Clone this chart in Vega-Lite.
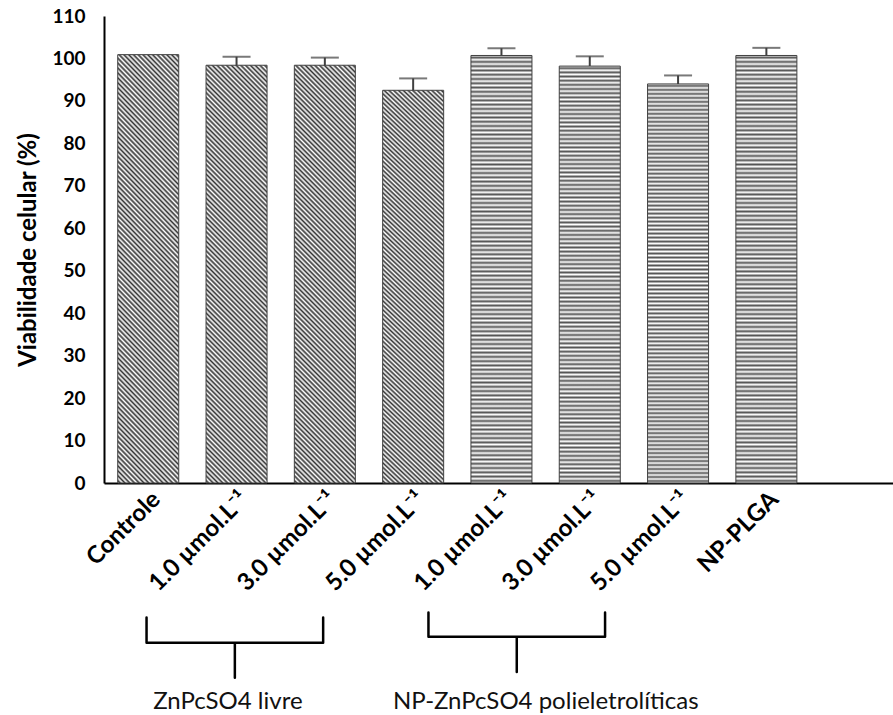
{
  "$schema": "https://vega.github.io/schema/vega-lite/v6.json",
  "autosize": "none",
  "width": 789,
  "height": 467,
  "padding": {"left": 104, "top": 16, "right": 0, "bottom": 232},
  "background": "white",
  "config": {
    "view": {"stroke": null},
    "font": "Lato",
    "axis": {
      "labelFont": "Lato",
      "labelFontWeight": "bold",
      "labelFontSize": 19,
      "labelColor": "#000",
      "titleFont": "Lato",
      "titleFontSize": 24,
      "titleFontWeight": "bold",
      "titleColor": "#000",
      "ticks": false,
      "tickSize": 0,
      "grid": false,
      "domainColor": "#000",
      "domainWidth": 2
    },
    "axisX": {
      "labelAngle": -45,
      "labelFontSize": 24,
      "labelPadding": 4,
      "labelOverlap": false,
      "labelExpr": "split(datum.value, '|')[0]"
    },
    "axisY": {
      "titlePadding": 11,
      "labelPadding": 19,
      "values": [0, 10, 20, 30, 40, 50, 60, 70, 80, 90, 100, 110]
    }
  },
  "datasets": {
    "viabilidade": [
      {"amostra": "Controle", "grupo": "controle", "media": 100.9, "dp": null},
      {"amostra": "1.0 µmol.L⁻¹|livre", "grupo": "livre", "media": 98.4, "dp": 2.0},
      {"amostra": "3.0 µmol.L⁻¹|livre", "grupo": "livre", "media": 98.4, "dp": 1.8},
      {"amostra": "5.0 µmol.L⁻¹|livre", "grupo": "livre", "media": 92.5, "dp": 2.8},
      {"amostra": "1.0 µmol.L⁻¹|NP", "grupo": "NP", "media": 100.7, "dp": 1.7},
      {"amostra": "3.0 µmol.L⁻¹|NP", "grupo": "NP", "media": 98.2, "dp": 2.3},
      {"amostra": "5.0 µmol.L⁻¹|NP", "grupo": "NP", "media": 94.0, "dp": 2.0},
      {"amostra": "NP-PLGA", "grupo": "PLGA", "media": 100.7, "dp": 1.8}
    ],
    "chaves": [
      {"grupo": "livre", "ordem": 1, "amostra": "1.0 µmol.L⁻¹|livre", "y": -31.7},
      {"grupo": "livre", "ordem": 2, "amostra": "1.0 µmol.L⁻¹|livre", "y": -37.6},
      {"grupo": "livre", "ordem": 3, "amostra": "3.0 µmol.L⁻¹|livre", "y": -37.6},
      {"grupo": "livre", "ordem": 4, "amostra": "3.0 µmol.L⁻¹|livre", "y": -45.9},
      {"grupo": "livre", "ordem": 5, "amostra": "3.0 µmol.L⁻¹|livre", "y": -37.6},
      {"grupo": "livre", "ordem": 6, "amostra": "5.0 µmol.L⁻¹|livre", "y": -37.6},
      {"grupo": "livre", "ordem": 7, "amostra": "5.0 µmol.L⁻¹|livre", "y": -31.7},
      {"grupo": "NP", "ordem": 1, "amostra": "1.0 µmol.L⁻¹|NP", "y": -30.5},
      {"grupo": "NP", "ordem": 2, "amostra": "1.0 µmol.L⁻¹|NP", "y": -36.2},
      {"grupo": "NP", "ordem": 3, "amostra": "3.0 µmol.L⁻¹|NP", "y": -36.2},
      {"grupo": "NP", "ordem": 4, "amostra": "3.0 µmol.L⁻¹|NP", "y": -44.5},
      {"grupo": "NP", "ordem": 5, "amostra": "3.0 µmol.L⁻¹|NP", "y": -36.2},
      {"grupo": "NP", "ordem": 6, "amostra": "5.0 µmol.L⁻¹|NP", "y": -36.2},
      {"grupo": "NP", "ordem": 7, "amostra": "5.0 µmol.L⁻¹|NP", "y": -30.5}
    ],
    "grupos": [
      {"grupo": "livre", "amostra": "3.0 µmol.L⁻¹|livre", "texto": "ZnPcSO4 livre"},
      {"grupo": "NP", "amostra": "3.0 µmol.L⁻¹|NP", "texto": "NP-ZnPcSO4 polieletrolíticas"}
    ]
  },
  "layer": [
    {
      "data": {"name": "viabilidade"},
      "transform": [{"filter": "isValid(datum.dp)"}],
      "mark": {
        "type": "errorbar",
        "color": "#404040",
        "ticks": {"size": 28, "thickness": 2, "color": "#404040"},
        "rule": {"strokeWidth": 2, "color": "#404040"}
      },
      "encoding": {
        "x": {"field": "amostra", "type": "nominal", "title": null},
        "y": {"field": "media", "type": "quantitative", "title": "Viabilidade celular (%)"},
        "yError": {"field": "dp"}
      }
    },
    {
      "data": {"name": "viabilidade"},
      "mark": {"type": "bar", "stroke": "#404040", "strokeWidth": 1},
      "encoding": {
        "x": {
          "field": "amostra",
          "type": "nominal",
          "title": null,
          "sort": null,
          "scale": {
            "domain": ["Controle", "1.0 µmol.L⁻¹|livre", "3.0 µmol.L⁻¹|livre", "5.0 µmol.L⁻¹|livre", "1.0 µmol.L⁻¹|NP", "3.0 µmol.L⁻¹|NP", "5.0 µmol.L⁻¹|NP", "NP-PLGA"],
            "paddingInner": 0.309,
            "paddingOuter": 0.622,
            "align": 0.125,
            "round": false
          }
        },
        "y": {
          "field": "media",
          "type": "quantitative",
          "title": "Viabilidade celular (%)",
          "scale": {"domain": [0, 110], "nice": false}
        },
        "fill": {
          "condition": {
            "test": "datum.grupo === 'NP' || datum.grupo === 'PLGA'",
            "value": {
              "gradient": "linear", "x1": 0, "y1": 0, "x2": 0, "y2": 1,
              "stops": [
{"offset":0,"color":"#fff"},{"offset":0.005,"color":"#555"},{"offset":0.01,"color":"#fff"},{"offset":0.015,"color":"#555"},{"offset":0.02,"color":"#fff"},{"offset":0.025,"color":"#555"},{"offset":0.03,"color":"#fff"},{"offset":0.035,"color":"#555"},{"offset":0.04,"color":"#fff"},{"offset":0.045,"color":"#555"},{"offset":0.05,"color":"#fff"},{"offset":0.055,"color":"#555"},{"offset":0.06,"color":"#fff"},{"offset":0.065,"color":"#555"},{"offset":0.07,"color":"#fff"},{"offset":0.075,"color":"#555"},{"offset":0.08,"color":"#fff"},{"offset":0.085,"color":"#555"},{"offset":0.09,"color":"#fff"},{"offset":0.095,"color":"#555"},
{"offset":0.1,"color":"#fff"},{"offset":0.105,"color":"#555"},{"offset":0.11,"color":"#fff"},{"offset":0.115,"color":"#555"},{"offset":0.12,"color":"#fff"},{"offset":0.125,"color":"#555"},{"offset":0.13,"color":"#fff"},{"offset":0.135,"color":"#555"},{"offset":0.14,"color":"#fff"},{"offset":0.145,"color":"#555"},{"offset":0.15,"color":"#fff"},{"offset":0.155,"color":"#555"},{"offset":0.16,"color":"#fff"},{"offset":0.165,"color":"#555"},{"offset":0.17,"color":"#fff"},{"offset":0.175,"color":"#555"},{"offset":0.18,"color":"#fff"},{"offset":0.185,"color":"#555"},{"offset":0.19,"color":"#fff"},{"offset":0.195,"color":"#555"},
{"offset":0.2,"color":"#fff"},{"offset":0.205,"color":"#555"},{"offset":0.21,"color":"#fff"},{"offset":0.215,"color":"#555"},{"offset":0.22,"color":"#fff"},{"offset":0.225,"color":"#555"},{"offset":0.23,"color":"#fff"},{"offset":0.235,"color":"#555"},{"offset":0.24,"color":"#fff"},{"offset":0.245,"color":"#555"},{"offset":0.25,"color":"#fff"},{"offset":0.255,"color":"#555"},{"offset":0.26,"color":"#fff"},{"offset":0.265,"color":"#555"},{"offset":0.27,"color":"#fff"},{"offset":0.275,"color":"#555"},{"offset":0.28,"color":"#fff"},{"offset":0.285,"color":"#555"},{"offset":0.29,"color":"#fff"},{"offset":0.295,"color":"#555"},
{"offset":0.3,"color":"#fff"},{"offset":0.305,"color":"#555"},{"offset":0.31,"color":"#fff"},{"offset":0.315,"color":"#555"},{"offset":0.32,"color":"#fff"},{"offset":0.325,"color":"#555"},{"offset":0.33,"color":"#fff"},{"offset":0.335,"color":"#555"},{"offset":0.34,"color":"#fff"},{"offset":0.345,"color":"#555"},{"offset":0.35,"color":"#fff"},{"offset":0.355,"color":"#555"},{"offset":0.36,"color":"#fff"},{"offset":0.365,"color":"#555"},{"offset":0.37,"color":"#fff"},{"offset":0.375,"color":"#555"},{"offset":0.38,"color":"#fff"},{"offset":0.385,"color":"#555"},{"offset":0.39,"color":"#fff"},{"offset":0.395,"color":"#555"},
{"offset":0.4,"color":"#fff"},{"offset":0.405,"color":"#555"},{"offset":0.41,"color":"#fff"},{"offset":0.415,"color":"#555"},{"offset":0.42,"color":"#fff"},{"offset":0.425,"color":"#555"},{"offset":0.43,"color":"#fff"},{"offset":0.435,"color":"#555"},{"offset":0.44,"color":"#fff"},{"offset":0.445,"color":"#555"},{"offset":0.45,"color":"#fff"},{"offset":0.455,"color":"#555"},{"offset":0.46,"color":"#fff"},{"offset":0.465,"color":"#555"},{"offset":0.47,"color":"#fff"},{"offset":0.475,"color":"#555"},{"offset":0.48,"color":"#fff"},{"offset":0.485,"color":"#555"},{"offset":0.49,"color":"#fff"},{"offset":0.495,"color":"#555"},
{"offset":0.5,"color":"#fff"},{"offset":0.505,"color":"#555"},{"offset":0.51,"color":"#fff"},{"offset":0.515,"color":"#555"},{"offset":0.52,"color":"#fff"},{"offset":0.525,"color":"#555"},{"offset":0.53,"color":"#fff"},{"offset":0.535,"color":"#555"},{"offset":0.54,"color":"#fff"},{"offset":0.545,"color":"#555"},{"offset":0.55,"color":"#fff"},{"offset":0.555,"color":"#555"},{"offset":0.56,"color":"#fff"},{"offset":0.565,"color":"#555"},{"offset":0.57,"color":"#fff"},{"offset":0.575,"color":"#555"},{"offset":0.58,"color":"#fff"},{"offset":0.585,"color":"#555"},{"offset":0.59,"color":"#fff"},{"offset":0.595,"color":"#555"},
{"offset":0.6,"color":"#fff"},{"offset":0.605,"color":"#555"},{"offset":0.61,"color":"#fff"},{"offset":0.615,"color":"#555"},{"offset":0.62,"color":"#fff"},{"offset":0.625,"color":"#555"},{"offset":0.63,"color":"#fff"},{"offset":0.635,"color":"#555"},{"offset":0.64,"color":"#fff"},{"offset":0.645,"color":"#555"},{"offset":0.65,"color":"#fff"},{"offset":0.655,"color":"#555"},{"offset":0.66,"color":"#fff"},{"offset":0.665,"color":"#555"},{"offset":0.67,"color":"#fff"},{"offset":0.675,"color":"#555"},{"offset":0.68,"color":"#fff"},{"offset":0.685,"color":"#555"},{"offset":0.69,"color":"#fff"},{"offset":0.695,"color":"#555"},
{"offset":0.7,"color":"#fff"},{"offset":0.705,"color":"#555"},{"offset":0.71,"color":"#fff"},{"offset":0.715,"color":"#555"},{"offset":0.72,"color":"#fff"},{"offset":0.725,"color":"#555"},{"offset":0.73,"color":"#fff"},{"offset":0.735,"color":"#555"},{"offset":0.74,"color":"#fff"},{"offset":0.745,"color":"#555"},{"offset":0.75,"color":"#fff"},{"offset":0.755,"color":"#555"},{"offset":0.76,"color":"#fff"},{"offset":0.765,"color":"#555"},{"offset":0.77,"color":"#fff"},{"offset":0.775,"color":"#555"},{"offset":0.78,"color":"#fff"},{"offset":0.785,"color":"#555"},{"offset":0.79,"color":"#fff"},{"offset":0.795,"color":"#555"},
{"offset":0.8,"color":"#fff"},{"offset":0.805,"color":"#555"},{"offset":0.81,"color":"#fff"},{"offset":0.815,"color":"#555"},{"offset":0.82,"color":"#fff"},{"offset":0.825,"color":"#555"},{"offset":0.83,"color":"#fff"},{"offset":0.835,"color":"#555"},{"offset":0.84,"color":"#fff"},{"offset":0.845,"color":"#555"},{"offset":0.85,"color":"#fff"},{"offset":0.855,"color":"#555"},{"offset":0.86,"color":"#fff"},{"offset":0.865,"color":"#555"},{"offset":0.87,"color":"#fff"},{"offset":0.875,"color":"#555"},{"offset":0.88,"color":"#fff"},{"offset":0.885,"color":"#555"},{"offset":0.89,"color":"#fff"},{"offset":0.895,"color":"#555"},
{"offset":0.9,"color":"#fff"},{"offset":0.905,"color":"#555"},{"offset":0.91,"color":"#fff"},{"offset":0.915,"color":"#555"},{"offset":0.92,"color":"#fff"},{"offset":0.925,"color":"#555"},{"offset":0.93,"color":"#fff"},{"offset":0.935,"color":"#555"},{"offset":0.94,"color":"#fff"},{"offset":0.945,"color":"#555"},{"offset":0.95,"color":"#fff"},{"offset":0.955,"color":"#555"},{"offset":0.96,"color":"#fff"},{"offset":0.965,"color":"#555"},{"offset":0.97,"color":"#fff"},{"offset":0.975,"color":"#555"},{"offset":0.98,"color":"#fff"},{"offset":0.985,"color":"#555"},{"offset":0.99,"color":"#fff"},{"offset":0.995,"color":"#555"},
{"offset":1,"color":"#fff"}
              ]
            }
          },
          "value": {
            "gradient": "linear", "x1": 1, "y1": 0, "x2": 0.8354, "y2": 1.1224,
            "stops": [
{"offset":0,"color":"#fff"},{"offset":0.005,"color":"#333"},{"offset":0.01,"color":"#fff"},{"offset":0.015,"color":"#333"},{"offset":0.02,"color":"#fff"},{"offset":0.025,"color":"#333"},{"offset":0.03,"color":"#fff"},{"offset":0.035,"color":"#333"},{"offset":0.04,"color":"#fff"},{"offset":0.045,"color":"#333"},{"offset":0.05,"color":"#fff"},{"offset":0.055,"color":"#333"},{"offset":0.06,"color":"#fff"},{"offset":0.065,"color":"#333"},{"offset":0.07,"color":"#fff"},{"offset":0.075,"color":"#333"},{"offset":0.08,"color":"#fff"},{"offset":0.085,"color":"#333"},{"offset":0.09,"color":"#fff"},{"offset":0.095,"color":"#333"},
{"offset":0.1,"color":"#fff"},{"offset":0.105,"color":"#333"},{"offset":0.11,"color":"#fff"},{"offset":0.115,"color":"#333"},{"offset":0.12,"color":"#fff"},{"offset":0.125,"color":"#333"},{"offset":0.13,"color":"#fff"},{"offset":0.135,"color":"#333"},{"offset":0.14,"color":"#fff"},{"offset":0.145,"color":"#333"},{"offset":0.15,"color":"#fff"},{"offset":0.155,"color":"#333"},{"offset":0.16,"color":"#fff"},{"offset":0.165,"color":"#333"},{"offset":0.17,"color":"#fff"},{"offset":0.175,"color":"#333"},{"offset":0.18,"color":"#fff"},{"offset":0.185,"color":"#333"},{"offset":0.19,"color":"#fff"},{"offset":0.195,"color":"#333"},
{"offset":0.2,"color":"#fff"},{"offset":0.205,"color":"#333"},{"offset":0.21,"color":"#fff"},{"offset":0.215,"color":"#333"},{"offset":0.22,"color":"#fff"},{"offset":0.225,"color":"#333"},{"offset":0.23,"color":"#fff"},{"offset":0.235,"color":"#333"},{"offset":0.24,"color":"#fff"},{"offset":0.245,"color":"#333"},{"offset":0.25,"color":"#fff"},{"offset":0.255,"color":"#333"},{"offset":0.26,"color":"#fff"},{"offset":0.265,"color":"#333"},{"offset":0.27,"color":"#fff"},{"offset":0.275,"color":"#333"},{"offset":0.28,"color":"#fff"},{"offset":0.285,"color":"#333"},{"offset":0.29,"color":"#fff"},{"offset":0.295,"color":"#333"},
{"offset":0.3,"color":"#fff"},{"offset":0.305,"color":"#333"},{"offset":0.31,"color":"#fff"},{"offset":0.315,"color":"#333"},{"offset":0.32,"color":"#fff"},{"offset":0.325,"color":"#333"},{"offset":0.33,"color":"#fff"},{"offset":0.335,"color":"#333"},{"offset":0.34,"color":"#fff"},{"offset":0.345,"color":"#333"},{"offset":0.35,"color":"#fff"},{"offset":0.355,"color":"#333"},{"offset":0.36,"color":"#fff"},{"offset":0.365,"color":"#333"},{"offset":0.37,"color":"#fff"},{"offset":0.375,"color":"#333"},{"offset":0.38,"color":"#fff"},{"offset":0.385,"color":"#333"},{"offset":0.39,"color":"#fff"},{"offset":0.395,"color":"#333"},
{"offset":0.4,"color":"#fff"},{"offset":0.405,"color":"#333"},{"offset":0.41,"color":"#fff"},{"offset":0.415,"color":"#333"},{"offset":0.42,"color":"#fff"},{"offset":0.425,"color":"#333"},{"offset":0.43,"color":"#fff"},{"offset":0.435,"color":"#333"},{"offset":0.44,"color":"#fff"},{"offset":0.445,"color":"#333"},{"offset":0.45,"color":"#fff"},{"offset":0.455,"color":"#333"},{"offset":0.46,"color":"#fff"},{"offset":0.465,"color":"#333"},{"offset":0.47,"color":"#fff"},{"offset":0.475,"color":"#333"},{"offset":0.48,"color":"#fff"},{"offset":0.485,"color":"#333"},{"offset":0.49,"color":"#fff"},{"offset":0.495,"color":"#333"},
{"offset":0.5,"color":"#fff"},{"offset":0.505,"color":"#333"},{"offset":0.51,"color":"#fff"},{"offset":0.515,"color":"#333"},{"offset":0.52,"color":"#fff"},{"offset":0.525,"color":"#333"},{"offset":0.53,"color":"#fff"},{"offset":0.535,"color":"#333"},{"offset":0.54,"color":"#fff"},{"offset":0.545,"color":"#333"},{"offset":0.55,"color":"#fff"},{"offset":0.555,"color":"#333"},{"offset":0.56,"color":"#fff"},{"offset":0.565,"color":"#333"},{"offset":0.57,"color":"#fff"},{"offset":0.575,"color":"#333"},{"offset":0.58,"color":"#fff"},{"offset":0.585,"color":"#333"},{"offset":0.59,"color":"#fff"},{"offset":0.595,"color":"#333"},
{"offset":0.6,"color":"#fff"},{"offset":0.605,"color":"#333"},{"offset":0.61,"color":"#fff"},{"offset":0.615,"color":"#333"},{"offset":0.62,"color":"#fff"},{"offset":0.625,"color":"#333"},{"offset":0.63,"color":"#fff"},{"offset":0.635,"color":"#333"},{"offset":0.64,"color":"#fff"},{"offset":0.645,"color":"#333"},{"offset":0.65,"color":"#fff"},{"offset":0.655,"color":"#333"},{"offset":0.66,"color":"#fff"},{"offset":0.665,"color":"#333"},{"offset":0.67,"color":"#fff"},{"offset":0.675,"color":"#333"},{"offset":0.68,"color":"#fff"},{"offset":0.685,"color":"#333"},{"offset":0.69,"color":"#fff"},{"offset":0.695,"color":"#333"},
{"offset":0.7,"color":"#fff"},{"offset":0.705,"color":"#333"},{"offset":0.71,"color":"#fff"},{"offset":0.715,"color":"#333"},{"offset":0.72,"color":"#fff"},{"offset":0.725,"color":"#333"},{"offset":0.73,"color":"#fff"},{"offset":0.735,"color":"#333"},{"offset":0.74,"color":"#fff"},{"offset":0.745,"color":"#333"},{"offset":0.75,"color":"#fff"},{"offset":0.755,"color":"#333"},{"offset":0.76,"color":"#fff"},{"offset":0.765,"color":"#333"},{"offset":0.77,"color":"#fff"},{"offset":0.775,"color":"#333"},{"offset":0.78,"color":"#fff"},{"offset":0.785,"color":"#333"},{"offset":0.79,"color":"#fff"},{"offset":0.795,"color":"#333"},
{"offset":0.8,"color":"#fff"},{"offset":0.805,"color":"#333"},{"offset":0.81,"color":"#fff"},{"offset":0.815,"color":"#333"},{"offset":0.82,"color":"#fff"},{"offset":0.825,"color":"#333"},{"offset":0.83,"color":"#fff"},{"offset":0.835,"color":"#333"},{"offset":0.84,"color":"#fff"},{"offset":0.845,"color":"#333"},{"offset":0.85,"color":"#fff"},{"offset":0.855,"color":"#333"},{"offset":0.86,"color":"#fff"},{"offset":0.865,"color":"#333"},{"offset":0.87,"color":"#fff"},{"offset":0.875,"color":"#333"},{"offset":0.88,"color":"#fff"},{"offset":0.885,"color":"#333"},{"offset":0.89,"color":"#fff"},{"offset":0.895,"color":"#333"},
{"offset":0.9,"color":"#fff"},{"offset":0.905,"color":"#333"},{"offset":0.91,"color":"#fff"},{"offset":0.915,"color":"#333"},{"offset":0.92,"color":"#fff"},{"offset":0.925,"color":"#333"},{"offset":0.93,"color":"#fff"},{"offset":0.935,"color":"#333"},{"offset":0.94,"color":"#fff"},{"offset":0.945,"color":"#333"},{"offset":0.95,"color":"#fff"},{"offset":0.955,"color":"#333"},{"offset":0.96,"color":"#fff"},{"offset":0.965,"color":"#333"},{"offset":0.97,"color":"#fff"},{"offset":0.975,"color":"#333"},{"offset":0.98,"color":"#fff"},{"offset":0.985,"color":"#333"},{"offset":0.99,"color":"#fff"},{"offset":0.995,"color":"#333"},
{"offset":1,"color":"#fff"}
            ]
          }
        }
      }
    },
    {
      "data": {"name": "chaves"},
      "transform": [{"filter": "datum.grupo === 'livre'"}],
      "mark": {"type": "line", "color": "#000", "strokeWidth": 2.5, "strokeJoin": "round", "strokeCap": "round", "xOffset": -90},
      "encoding": {
        "x": {"field": "amostra", "type": "nominal", "title": null},
        "y": {"field": "y", "type": "quantitative", "title": "Viabilidade celular (%)"},
        "order": {"field": "ordem"}
      }
    },
    {
      "data": {"name": "chaves"},
      "transform": [{"filter": "datum.grupo === 'NP'"}],
      "mark": {"type": "line", "color": "#000", "strokeWidth": 2.5, "strokeJoin": "round", "strokeCap": "round", "xOffset": -73},
      "encoding": {
        "x": {"field": "amostra", "type": "nominal", "title": null},
        "y": {"field": "y", "type": "quantitative", "title": "Viabilidade celular (%)"},
        "order": {"field": "ordem"}
      }
    },
    {
      "data": {"name": "grupos"},
      "transform": [{"filter": "datum.grupo === 'livre'"}],
      "mark": {"type": "text", "font": "Lato", "fontSize": 24, "color": "#111", "align": "center", "baseline": "middle", "xOffset": -97},
      "encoding": {
        "x": {"field": "amostra", "type": "nominal", "title": null},
        "y": {"datum": -51.5, "title": "Viabilidade celular (%)"},
        "text": {"field": "texto"}
      }
    },
    {
      "data": {"name": "grupos"},
      "transform": [{"filter": "datum.grupo === 'NP'"}],
      "mark": {"type": "text", "font": "Lato", "fontSize": 24, "color": "#111", "align": "center", "baseline": "middle", "xOffset": -44},
      "encoding": {
        "x": {"field": "amostra", "type": "nominal", "title": null},
        "y": {"datum": -51.5, "title": "Viabilidade celular (%)"},
        "text": {"field": "texto"}
      }
    }
  ]
}
